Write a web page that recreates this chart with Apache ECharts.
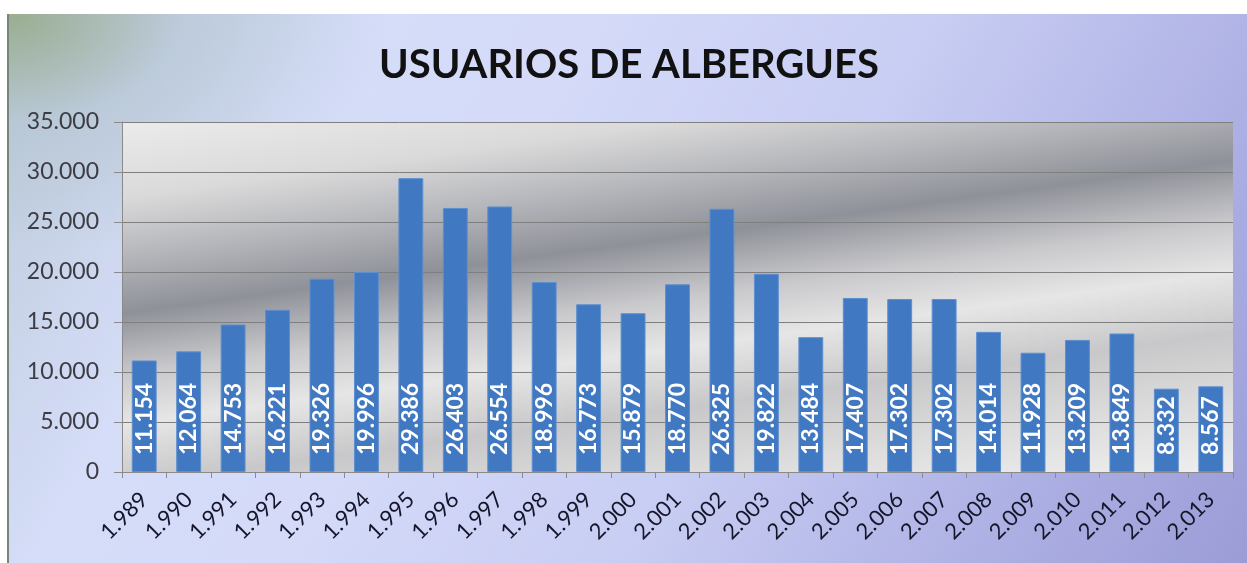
<!DOCTYPE html>
<html>
<head>
<meta charset="utf-8">
<script src="https://cdn.jsdelivr.net/npm/echarts@6/dist/echarts.min.js"></script>
<style>
  html, body { margin: 0; padding: 0; background: #ffffff; width: 1247px; height: 563px; overflow: hidden; }
  #frame {
    position: absolute; left: 7px; top: 14px; width: 1240px; height: 549px;
    border-left: 2px solid #75867a; box-sizing: border-box;
    background:
      radial-gradient(ellipse 380px 240px at 0 0, rgba(152,172,140,0.95) 0%, rgba(176,194,205,0.5) 45%, rgba(214,221,249,0) 100%),
      linear-gradient(120deg, #bccad8 0%, #d5ddf8 22%, #d4daf8 38%, #c8cdf3 60%, #aeb1e4 82%, #9b9cd6 100%);
  }
  #chart { position: absolute; left: 0; top: 0; width: 1240px; height: 549px; }
</style>
</head>
<body>
<div id="frame"><div id="chart"></div></div>
<script>
// ---- data ----
const categories = ['1.989','1.990','1.991','1.992','1.993','1.994','1.995','1.996','1.997','1.998','1.999','2.000','2.001','2.002','2.003','2.004','2.005','2.006','2.007','2.008','2.009','2.010','2.011','2.012','2.013'];
const usuarios = [11154, 12064, 14753, 16221, 19326, 19996, 29386, 26403, 26554, 18996, 16773, 15879, 18770, 26325, 19822, 13484, 17407, 17302, 17302, 14014, 11928, 13209, 13849, 8332, 8567];
const titleText = 'USUARIOS DE ALBERGUES';
const yMin = 0, yMax = 35000, yStep = 5000;

function fmt(v) { return String(v).replace(/\B(?=(\d{3})+(?!\d))/g, '.'); }

const chart = echarts.init(document.getElementById('chart'), null, { renderer: 'canvas' });

const plotBg = new echarts.graphic.LinearGradient(113, 108, 181, 603, [
  { offset: 0.00, color: '#ebebeb' },
  { offset: 0.15, color: '#dadada' },
  { offset: 0.27, color: '#b4b5ba' },
  { offset: 0.38, color: '#8f9199' },
  { offset: 0.50, color: '#c9c9cc' },
  { offset: 0.60, color: '#e6e6e6' },
  { offset: 0.72, color: '#c8c8ca' },
  { offset: 0.85, color: '#dcdcdc' },
  { offset: 1.00, color: '#efefef' }
], true);

chart.setOption({
  animation: false,
  backgroundColor: 'transparent',
  title: {
    text: titleText,
    left: 'center',
    top: 31,
    padding: 0,
    textStyle: { fontFamily: 'Lato', fontWeight: 'bold', fontSize: 40, color: '#111111' }
  },
  grid: {
    left: 113, top: 108, right: 16, bottom: 91,
    show: true, backgroundColor: plotBg, borderWidth: 0
  },
  xAxis: {
    type: 'category',
    data: categories,
    boundaryGap: true,
    axisLine: { show: true, lineStyle: { color: '#8a8a8a', width: 1 } },
    axisTick: { show: true, length: 6, alignWithLabel: false, lineStyle: { color: '#8a8a8a' } },
    axisLabel: {
      interval: 0, rotate: 45, margin: 24,
      fontFamily: 'Lato', fontSize: 22, color: '#15152a'
    },
    splitLine: { show: false }
  },
  yAxis: {
    type: 'value',
    min: yMin, max: yMax, interval: yStep,
    axisLine: { show: true, lineStyle: { color: '#8a8a8a', width: 1 } },
    axisTick: { show: true, length: 8, lineStyle: { color: '#8a8a8a' } },
    axisLabel: {
      margin: 23, fontFamily: 'Lato', fontSize: 23, color: '#3c3c44',
      formatter: v => fmt(v)
    },
    splitLine: { show: true, lineStyle: { color: '#7f7f7f', width: 1 } }
  },
  series: [{
    type: 'bar',
    data: usuarios,
    barCategoryGap: '44%',
    itemStyle: { color: '#4079c2', borderColor: '#5d8fd0', borderWidth: 1 },
    label: {
      show: true,
      position: 'insideBottom',
      rotate: 90,
      align: 'left',
      verticalAlign: 'middle',
      distance: 17,
      fontFamily: 'Lato', fontWeight: 'bold', fontSize: 23, color: '#ffffff',
      formatter: p => fmt(p.value)
    }
  }]
});
</script>
</body>
</html>
